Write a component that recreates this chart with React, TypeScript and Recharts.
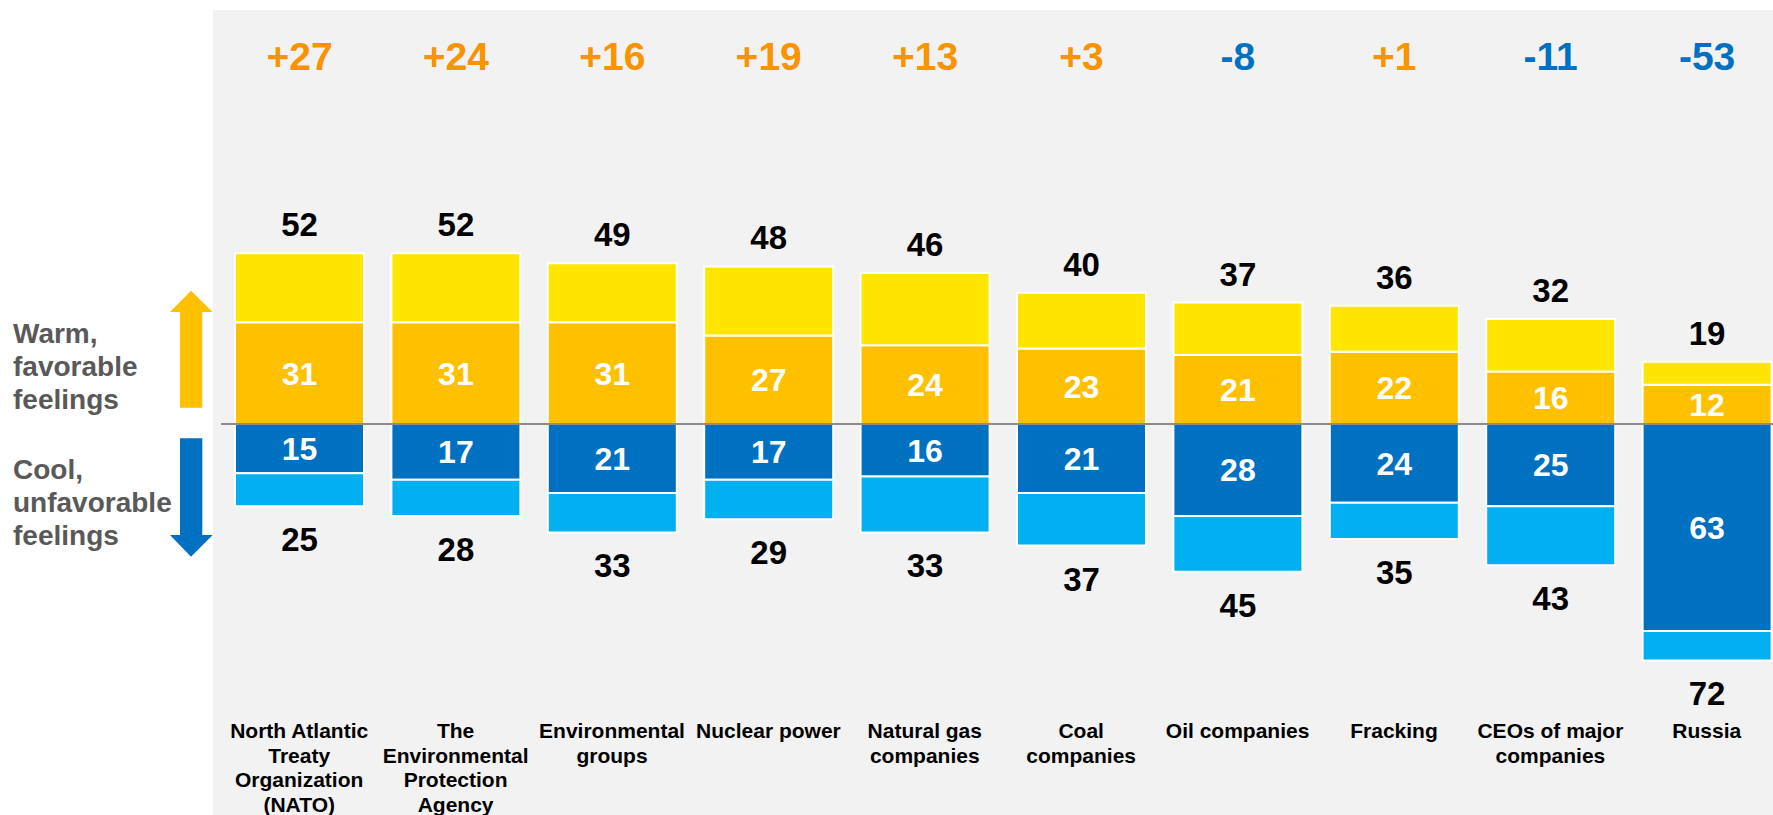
import React from "react";
import { BarChart, Bar, XAxis, YAxis, ReferenceLine, LabelList } from "recharts";

const categories = [
  "North Atlantic\nTreaty\nOrganization\n(NATO)",
  "The\nEnvironmental\nProtection\nAgency",
  "Environmental\ngroups",
  "Nuclear power",
  "Natural gas\ncompanies",
  "Coal\ncompanies",
  "Oil companies",
  "Fracking",
  "CEOs of major\ncompanies",
  "Russia",
];
const warmTotal = [52, 52, 49, 48, 46, 40, 37, 36, 32, 19];
const veryWarm = [31, 31, 31, 27, 24, 23, 21, 22, 16, 12];
const coolTotal = [25, 28, 33, 29, 33, 37, 45, 35, 43, 72];
const veryCool = [15, 17, 21, 17, 16, 21, 28, 24, 25, 63];
const netScore = [27, 24, 16, 19, 13, 3, -8, 1, -11, -53];

const YELLOW = "#FFE500";
const ORANGE = "#FFC000";
const DARK_BLUE = "#0070C0";
const LIGHT_BLUE = "#00B0F0";
const NET_ORANGE = "#F99300";
const FONT = "'Liberation Sans', Arial, sans-serif";

// warm values stack up, cool values stack down (stackOffset="sign")
const data = categories.map((name, i) => ({
  name,
  veryWarm: veryWarm[i],
  someWarm: warmTotal[i] - veryWarm[i],
  veryCool: -veryCool[i],
  someCool: -(coolTotal[i] - veryCool[i]),
  warmTotal: warmTotal[i],
  coolTotal: coolTotal[i],
  net: netScore[i],
}));

const CategoryTick = ({ x, y, payload }: any) => {
  const lines = String(payload.value).split("\n");
  return (
    <text
      x={x}
      y={y}
      textAnchor="middle"
      fontSize={21}
      fontWeight="bold"
      fill="#000"
      fontFamily={FONT}
    >
      {lines.map((line, i) => (
        <tspan key={i} x={x} dy={i === 0 ? 25 : 24.7}>
          {line}
        </tspan>
      ))}
    </text>
  );
};

const TotalAbove = (props: any) => {
  const x = Number(props.x);
  const y = Number(props.y);
  const h = Number(props.height);
  const top = Math.min(y, y + h);
  return (
    <text
      x={x + Number(props.width) / 2}
      y={top - 17}
      textAnchor="middle"
      fontSize={33}
      fontWeight="bold"
      fill="#000"
      fontFamily={FONT}
    >
      {props.value}
    </text>
  );
};

const TotalBelow = (props: any) => {
  const x = Number(props.x);
  const y = Number(props.y);
  const h = Number(props.height);
  const bottom = Math.max(y, y + h);
  return (
    <text
      x={x + Number(props.width) / 2}
      y={bottom + 45}
      textAnchor="middle"
      fontSize={33}
      fontWeight="bold"
      fill="#000"
      fontFamily={FONT}
    >
      {props.value}
    </text>
  );
};

const NetLabel = (props: any) => {
  const v = Number(props.value);
  return (
    <text
      x={Number(props.x) + Number(props.width) / 2}
      y={70}
      textAnchor="middle"
      fontSize={39}
      fontWeight="bold"
      fill={v < 0 ? DARK_BLUE : NET_ORANGE}
      fontFamily={FONT}
    >
      {v > 0 ? `+${v}` : `${v}`}
    </text>
  );
};

const innerLabel = {
  fill: "#fff",
  fontSize: 32,
  fontWeight: "bold",
  fontFamily: FONT,
} as const;

const SideNotes = () => (
  <svg
    width={213}
    height={815}
    style={{ position: "absolute", left: 0, top: 0 }}
  >
    <polygon
      points="191,290.7 212.7,312 202.3,312 202.3,407.7 180,407.7 180,312 170,312"
      fill={ORANGE}
    />
    <polygon
      points="180,438.3 202.3,438.3 202.3,535 212.7,535 191,556.7 170,535 180,535"
      fill={DARK_BLUE}
    />
    <text fontSize={28} fontWeight="bold" fill="#595959" fontFamily={FONT}>
      <tspan x={13} y={343}>Warm,</tspan>
      <tspan x={13} y={376}>favorable</tspan>
      <tspan x={13} y={409}>feelings</tspan>
    </text>
    <text fontSize={28} fontWeight="bold" fill="#595959" fontFamily={FONT}>
      <tspan x={13} y={479}>Cool,</tspan>
      <tspan x={13} y={512}>unfavorable</tspan>
      <tspan x={13} y={545}>feelings</tspan>
    </text>
  </svg>
);

export default function App() {
  return (
    <div
      style={{
        position: "absolute",
        left: 0,
        top: 0,
        width: 1773,
        height: 815,
        overflow: "hidden",
        background: "#fff",
        fontFamily: FONT,
      }}
    >
      <div
        style={{
          position: "absolute",
          left: 213,
          top: 10,
          right: 0,
          bottom: 0,
          background: "#F2F2F2",
        }}
      />
      <SideNotes />
      <div style={{ position: "absolute", left: 0, top: 0 }}>
        <BarChart
          width={1785}
          height={815}
          data={data}
          stackOffset="sign"
          margin={{ top: 30, right: 0, bottom: 0, left: 221 }}
        >
          <XAxis
            dataKey="name"
            interval={0}
            axisLine={false}
            tickLine={false}
            tickSize={0}
            tickMargin={0}
            height={102}
            tick={<CategoryTick />}
          />
          <YAxis hide type="number" domain={[-88, 120]} allowDataOverflow />
          <Bar
            dataKey="veryWarm"
            stackId="s"
            fill={ORANGE}
            stroke="#fff"
            strokeWidth={2}
            barSize={129}
            isAnimationActive={false}
          >
            <LabelList dataKey="veryWarm" position="center" style={innerLabel} />
          </Bar>
          <Bar
            dataKey="someWarm"
            stackId="s"
            fill={YELLOW}
            stroke="#fff"
            strokeWidth={2}
            barSize={129}
            isAnimationActive={false}
          >
            <LabelList dataKey="warmTotal" content={<TotalAbove />} />
            <LabelList dataKey="net" content={<NetLabel />} />
          </Bar>
          <Bar
            dataKey="veryCool"
            stackId="s"
            fill={DARK_BLUE}
            stroke="#fff"
            strokeWidth={2}
            barSize={129}
            isAnimationActive={false}
          >
            <LabelList
              dataKey="veryCool"
              position="center"
              style={innerLabel}
              formatter={(v: any) => Math.abs(Number(v))}
            />
          </Bar>
          <Bar
            dataKey="someCool"
            stackId="s"
            fill={LIGHT_BLUE}
            stroke="#fff"
            strokeWidth={2}
            barSize={129}
            isAnimationActive={false}
          >
            <LabelList dataKey="coolTotal" content={<TotalBelow />} />
          </Bar>
          <ReferenceLine y={0} stroke="#8C8C8C" strokeWidth={2} />
        </BarChart>
      </div>
    </div>
  );
}
